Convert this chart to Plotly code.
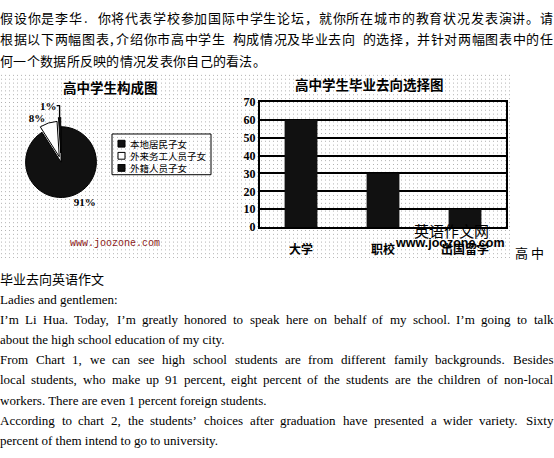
import base64
import plotly.graph_objects as go

W, H = 554, 458

# ---------------- data ----------------
pie_title = "高中学生构成图"
pie_labels = ["本地居民子女", "外来务工人员子女", "外籍人员子女"]
pie_values = [91, 8, 1]
pie_colors = ["#111111", "#ffffff", "#111111"]

bar_title = "高中学生毕业去向选择图"
bar_categories = ["大学", "职校", "出国留学"]
bar_values = [60, 30, 10]
y_ticks = [0, 10, 20, 30, 40, 50, 60, 70]

top_lines = [
    "假设你是李华. 你将代表学校参加国际中学生论坛，就你所在城市的教育状况发表演讲。请",
    "根据以下两幅图表,介绍你市高中学生 构成情况及毕业去向 的选择，并针对两幅图表中的任",
    "何一个数据所反映的情况发表你自己的看法。",
]
top_justify = [True, True, False]
body_title = "毕业去向英语作文"
body_lines = [
    "Ladies and gentlemen:",
    "I’m Li Hua. Today, I’m greatly honored to speak here on behalf of my school. I’m going to talk",
    "about the high school education of my city.",
    "From Chart 1, we can see high school students are from different family backgrounds. Besides",
    "local students, who make up 91 percent, eight percent of the students are the children of non-local",
    "workers. There are even 1 percent foreign students.",
    "According to chart 2, the students’ choices after graduation have presented a wider variety. Sixty",
    "percent of them intend to go to university.",
]
body_justify = [False, True, False, True, True, False, True, False]
watermark_cn = "英语作文网"
watermark_url = "www.joozone.com"
trailing_text = "高 中"

# ---------------- helpers ----------------
def px(x):
    return x / W

def py(y):
    return 1 - y / H

CJK = "Noto Sans CJK SC"
SERIF = "Liberation Serif"
PAD = 2  # annotation border + pad offset

# Times / Liberation Serif advance widths (1/1000 em)
_TW = {' ': 250, ',': 250, '.': 250, ':': 278, ';': 278, '-': 333, '’': 333, "'": 180,
       '(': 333, ')': 333, '%': 833, '!': 333, '?': 444}
_TW.update({d: 500 for d in "0123456789"})
_TW.update(dict(zip("ABCDEFGHIJKLMNOPQRSTUVWXYZ",
                    [722, 667, 667, 722, 611, 556, 722, 722, 333, 389, 722, 611, 889,
                     722, 722, 556, 722, 667, 556, 611, 722, 722, 944, 722, 722, 611])))
_TW.update(dict(zip("abcdefghijklmnopqrstuvwxyz",
                    [444, 500, 444, 500, 444, 333, 500, 500, 278, 278, 500, 278, 778,
                     500, 500, 500, 500, 333, 389, 278, 500, 500, 722, 500, 500, 444])))

def times_width(s, size):
    return sum(_TW.get(c, 500) for c in s) * size / 1000.0

annotations = []

def ann(text, x, y, size, family, xanchor="left", color="#000", weight=None):
    f = dict(family=family, size=size, color=color)
    if weight:
        f["weight"] = weight
    annotations.append(dict(
        text=text, x=px(x), y=py(y), xref="paper", yref="paper",
        xanchor=xanchor, yanchor="middle", showarrow=False, font=f,
    ))

# top Chinese text (character-level justification)
CN_SIZE = 13
for i, (t, just) in enumerate(zip(top_lines, top_justify)):
    yy = 11 + i * 22
    units = [(c, CN_SIZE if ord(c) > 255 else CN_SIZE * 0.5) for c in t]
    natural = sum(u[1] for u in units)
    extra = (553 - natural) / (len(units) - 1) if just else 0.3
    xcur = 0.0
    for c, w in units:
        if c != " ":
            ann(c, xcur + w / 2, yy, CN_SIZE, CJK, xanchor="center")
        xcur += w + extra

# chart titles
ann("<b>%s</b>" % pie_title, 110, 83, 13.5, CJK, xanchor="center")
ann("<b>%s</b>" % bar_title, 369, 79, 13.5, CJK, xanchor="center")

# custom compact legend for the pie
leg_x0, leg_y0, leg_x1, leg_y1 = 112, 131, 211, 173
shapes = [dict(type="rect", xref="paper", yref="paper",
               x0=px(leg_x0), x1=px(leg_x1), y0=py(leg_y1), y1=py(leg_y0),
               line=dict(color="#000", width=1), fillcolor="rgba(0,0,0,0)")]
for k, (lab, col) in enumerate(zip(pie_labels, pie_colors)):
    yy = 141 + k * 12.5
    shapes.append(dict(type="rect", xref="paper", yref="paper",
                       x0=px(118), x1=px(125), y0=py(yy + 3.5), y1=py(yy - 3.5),
                       line=dict(color="#000", width=1), fillcolor=col))
    ann(lab, 130 - PAD, yy, 9.5, CJK)

# watermarks
ann(watermark_url, 115, 244, 10, "Liberation Mono", xanchor="center", color="#8b1a1a")
ann(watermark_cn, 451, 231, 15, CJK, xanchor="center")
ann("<b>%s</b>" % watermark_url, 450, 243, 12.5, "Liberation Sans", xanchor="center")
ann(trailing_text, 515 - PAD, 253, 13, CJK)

# body
ann(body_title, 0 - PAD, 280, 13, CJK)
EN_SIZE = 13
for i, (t, just) in enumerate(zip(body_lines, body_justify)):
    yy = 301.5 + i * 20.8
    if not just:
        ann(t, 0 - PAD, yy, EN_SIZE, SERIF)
        continue
    words = t.split(" ")
    widths = [times_width(w, EN_SIZE) for w in words]
    gap = (553 - sum(widths)) / (len(words) - 1)
    xcur = 0.0
    for w, ww in zip(words, widths):
        ann(w, xcur - PAD, yy, EN_SIZE, SERIF)
        xcur += ww + gap

# ---------------- traces ----------------
fig = go.Figure()

cx, cy, r = 61, 160, 46
fig.add_trace(go.Pie(
    labels=pie_labels,
    values=pie_values,
    sort=False,
    direction="clockwise",
    rotation=0,
    pull=[0, 0.16, 0.26],
    marker=dict(colors=pie_colors, line=dict(color="#000000", width=1)),
    texttemplate="<b>%{value}%</b>",
    textposition="outside",
    textfont=dict(family=SERIF, size=11, color="#000"),
    domain=dict(x=[px(cx - r), px(cx + r)], y=[py(cy + r), py(cy - r)]),
    showlegend=False,
    hoverinfo="label+percent",
))

fig.add_trace(go.Bar(
    x=bar_categories,
    y=bar_values,
    marker=dict(color="#111111", line=dict(width=0)),
    showlegend=False,
    xaxis="x", yaxis="y",
))

# dotted background for the picture region
dot_svg = (
    '<svg xmlns="http://www.w3.org/2000/svg" width="510" height="190">'
    '<defs><pattern id="p" width="4" height="4" patternUnits="userSpaceOnUse">'
    '<rect x="1" y="1" width="1" height="1" fill="#b0b0b0"/></pattern></defs>'
    '<rect width="510" height="190" fill="url(#p)"/></svg>'
)
dot_uri = "data:image/svg+xml;base64," + base64.b64encode(dot_svg.encode()).decode()

fig.update_layout(
    width=W, height=H,
    margin=dict(l=0, r=0, t=0, b=0),
    paper_bgcolor="#ffffff",
    plot_bgcolor="#ffffff",
    bargap=0.6,
    xaxis=dict(
        domain=[px(260), px(506)],
        showline=True, mirror=True, linecolor="#000", linewidth=2,
        showgrid=False, ticks="",
        tickfont=dict(family=CJK, size=12, color="#000", weight="bold"),
        ticklabelstandoff=11,
        fixedrange=True,
    ),
    yaxis=dict(
        domain=[py(227), py(98)],
        range=[0, 70], tickvals=y_ticks, ticksuffix="%",
        showline=True, mirror=True, linecolor="#000", linewidth=2,
        showgrid=True, gridcolor="#000", gridwidth=2,
        zeroline=False, ticks="",
        tickfont=dict(family=SERIF, size=12, color="#000", weight="bold"),
        fixedrange=True,
    ),
    images=[dict(
        source=dot_uri, xref="paper", yref="paper",
        x=0, y=py(69), sizex=px(510), sizey=190 / H,
        sizing="stretch", layer="below", xanchor="left", yanchor="top",
    )],
    shapes=shapes,
    annotations=annotations,
    showlegend=False,
)

fig.write_html(
    "out.html",
    config={"displayModeBar": False, "responsive": False},
    post_script="document.body.style.margin='0';document.body.style.padding='0';"
                "document.body.style.overflow='hidden';",
)
